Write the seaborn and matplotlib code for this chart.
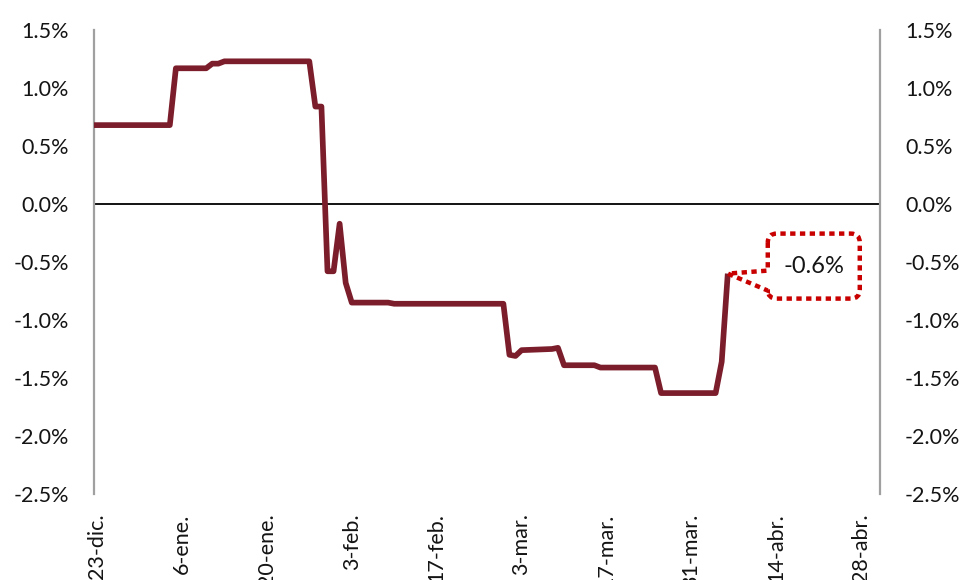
import matplotlib
matplotlib.use("Agg")
import matplotlib.pyplot as plt
import matplotlib.transforms as mtransforms
from matplotlib.path import Path
from matplotlib.patches import PathPatch
from matplotlib.ticker import FuncFormatter, FixedLocator
import seaborn as sns
import pandas as pd

# Days elapsed since 23-dic and the series value (%) at each vertex of the line
days = [-1, 0, 12, 13, 18, 19, 20, 21, 35, 36, 37, 38, 39, 40, 41, 42, 48, 49,
        67, 68, 69, 70, 75, 76, 77, 82, 83, 92, 93, 102, 103, 104]
values = [0.68, 0.68, 0.68, 1.17, 1.17, 1.21, 1.21, 1.23, 1.23, 0.84, 0.84, -0.58, -0.58,
          -0.17, -0.68, -0.85, -0.85, -0.86, -0.86, -1.30, -1.31, -1.26, -1.25,
          -1.24, -1.39, -1.39, -1.41, -1.41, -1.63, -1.63, -1.36, -0.60]

tick_days = [0, 14, 28, 42, 56, 70, 84, 98, 112, 126]
tick_labels = ["23-dic.", "6-ene.", "20-ene.", "3-feb.", "17-feb.", "3-mar.",
               "17-mar.", "31-mar.", "14-abr.", "28-abr."]
y_ticks = [1.5, 1.0, 0.5, 0.0, -0.5, -1.0, -1.5, -2.0, -2.5]
last_label = "-0.6%"

df = pd.DataFrame({"dia": days, "valor": values})

sns.set_style("white")
plt.rcParams["font.family"] = ["Lato", "DejaVu Sans"]

LINE = "#7b1d2b"
CALLOUT = "#c80000"
FS = 15.5

fig = plt.figure(figsize=(9.68, 5.80), dpi=100)
ax = fig.add_axes([94 / 968, (580 - 494) / 580, 786 / 968, 464 / 580])

sns.lineplot(data=df, x="dia", y="valor", ax=ax, color=LINE, linewidth=4.1,
             solid_joinstyle="round", solid_capstyle="butt", zorder=3)
ax.axhline(0, color="black", linewidth=1.3, zorder=2)

ax.set_xlim(-0.5, 129.1)
ax.set_ylim(-2.5, 1.5)
ax.set_xlabel("")
ax.set_ylabel("")

ax.xaxis.set_major_locator(FixedLocator(tick_days))
ax.set_xticklabels(tick_labels, rotation=90, fontsize=FS, va="top", ha="center")
ax.yaxis.set_major_locator(FixedLocator(y_ticks))
ax.yaxis.set_major_formatter(FuncFormatter(lambda v, _: f"{v:.1f}%"))
ax.tick_params(axis="x", length=0, pad=14)
ax.tick_params(axis="y", length=0, pad=18, labelsize=FS,
               labelleft=True, labelright=True)
for lab in ax.get_yticklabels() + ax.get_xticklabels():
    lab.set_color("#141414")

for side in ("top", "bottom"):
    ax.spines[side].set_visible(False)
for side in ("left", "right"):
    ax.spines[side].set_color("#a0a0a0")
    ax.spines[side].set_linewidth(1.6)

# Callout pointing at the last value: rounded box with a wedge, in pixel offsets
L, R, T, B, r = 40, 132, 40, -25, 9
wt, wb = 3, -17
verts = [
    (L, T - r), (L, wt), (0, 0), (L, wb), (L, B + r),
    (L, B), (L + r, B),
    (R - r, B),
    (R, B), (R, B + r),
    (R, T - r),
    (R, T), (R - r, T),
    (L + r, T),
    (L, T), (L, T - r),
]
codes = [Path.MOVETO, Path.LINETO, Path.LINETO, Path.LINETO, Path.LINETO,
         Path.CURVE3, Path.CURVE3,
         Path.LINETO,
         Path.CURVE3, Path.CURVE3,
         Path.LINETO,
         Path.CURVE3, Path.CURVE3,
         Path.LINETO,
         Path.CURVE3, Path.CURVE3]
tip = mtransforms.Affine2D() + mtransforms.ScaledTranslation(days[-1], values[-1], ax.transData)
patch = PathPatch(Path(verts, codes), transform=tip, facecolor="white",
                  edgecolor=CALLOUT, linewidth=3.2, linestyle=(0, (1.2, 1.0)),
                  capstyle="butt", zorder=4, clip_on=False)
ax.add_patch(patch)
ax.text(86, 7, last_label, transform=tip, ha="center", va="center",
        fontsize=17, color="#141414", zorder=5)

fig.savefig("out.png", dpi=100)
